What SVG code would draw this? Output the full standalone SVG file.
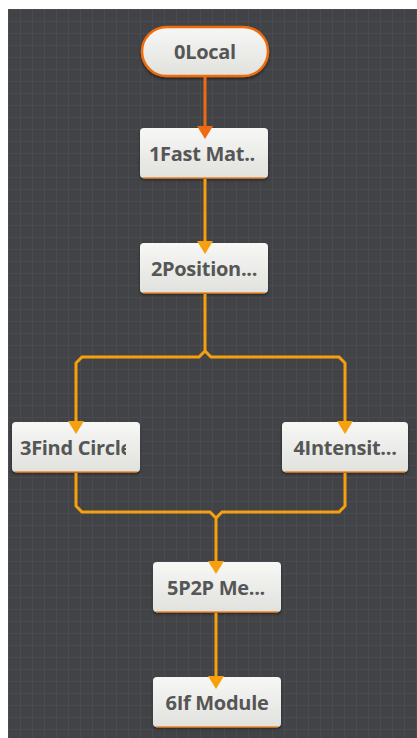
<svg xmlns="http://www.w3.org/2000/svg" width="417" height="738" viewBox="0 0 417 738">
<defs>
<pattern id="grid" width="12" height="12" patternUnits="userSpaceOnUse" x="8" y="9">
<rect width="12" height="12" fill="#424347"/>
<path d="M0,0.5 H12 M0.5,0 V12" stroke="#4a4b50" stroke-width="1" fill="none"/>
</pattern>
<linearGradient id="nodeFill" x1="0" y1="0" x2="0" y2="1">
<stop offset="0" stop-color="#f7f7f5"/>
<stop offset="1" stop-color="#e1e2de"/>
</linearGradient>
<filter id="sh" x="-20%" y="-20%" width="140%" height="150%">
<feDropShadow dx="0" dy="2" stdDeviation="1.5" flood-color="#000" flood-opacity="0.45"/>
</filter>
<clipPath id="clip3"><rect x="14" y="422" width="112" height="50"/></clipPath>
</defs>
<style>
.node rect.box{fill:url(#nodeFill);filter:url(#sh)}
.node .base{stroke:#e8862a;stroke-width:1.5}
.node text{font-family:"Open Sans","Noto Sans",sans-serif;font-weight:bold;font-size:20px;fill:#565656;text-anchor:middle;letter-spacing:-0.3px}
.c{fill:none;stroke:#f5a00c;stroke-width:3;stroke-linejoin:miter}
.a{fill:#f5a00c}
.c0{fill:none;stroke:#ef6a12;stroke-width:3}
.a0{fill:#ef6a12}
</style>
<rect x="0" y="0" width="417" height="738" fill="#ffffff"/>
<rect x="8" y="9" width="409" height="729" fill="url(#grid)"/>

<g id="node0" class="node">
<rect x="142" y="27" width="126" height="49" rx="24.5" fill="url(#nodeFill)" stroke="#ef6c0c" stroke-width="2.5" filter="url(#sh)"/>
<text x="205" y="59">0Local</text>
</g>
<g id="node1" class="node">
<rect class="box" x="140" y="128" width="128" height="50" rx="4"/>
<line class="base" x1="143" y1="178" x2="265" y2="178"/>
<text x="202" y="161">1Fast Mat..</text>
</g>
<g id="node2" class="node">
<rect class="box" x="140" y="243" width="128" height="50" rx="4"/>
<line class="base" x1="143" y1="293" x2="265" y2="293"/>
<text x="204" y="276">2Position...</text>
</g>
<g id="node3" class="node">
<rect class="box" x="12" y="422" width="128" height="50" rx="4"/>
<line class="base" x1="15" y1="472" x2="137" y2="472"/>
<text x="20" y="455" clip-path="url(#clip3)" style="text-anchor:start">3Find Circle</text>
</g>
<g id="node4" class="node">
<rect class="box" x="282" y="422" width="126" height="50" rx="4"/>
<line class="base" x1="285" y1="472" x2="405" y2="472"/>
<text x="345" y="455">4Intensit...</text>
</g>
<g id="node5" class="node">
<rect class="box" x="153" y="562" width="128" height="50" rx="4"/>
<line class="base" x1="156" y1="612" x2="278" y2="612"/>
<text x="216" y="595">5P2P Me...</text>
</g>
<g id="node6" class="node">
<rect class="box" x="153" y="677" width="128" height="50" rx="4"/>
<line class="base" x1="156" y1="727" x2="278" y2="727"/>
<text x="217" y="710">6If Module</text>
</g>

<g id="connectors">
<path class="c0" d="M205,77 V128"/>
<polygon class="a0" points="197,126 213,126 205,139"/>
<path class="c" d="M205,179 V243"/>
<polygon class="a" points="197,241 213,241 205,254"/>
<path class="c" d="M205,294 V351 L199,357 H82 L76,363 V422"/>
<path class="c" d="M205,351 L211,357 H339 L345,363 V422"/>
<polygon class="a" points="68,421 84,421 76,434"/>
<polygon class="a" points="337,421 353,421 345,434"/>
<path class="c" d="M76,473 V506 L82,512 H210 L216,518 V562"/>
<path class="c" d="M345,473 V506 L339,512 H222 L216,518"/>
<polygon class="a" points="208,561 224,561 216,574"/>
<path class="c" d="M216,613 V677"/>
<polygon class="a" points="208,676 224,676 216,689"/>
</g>
</svg>
